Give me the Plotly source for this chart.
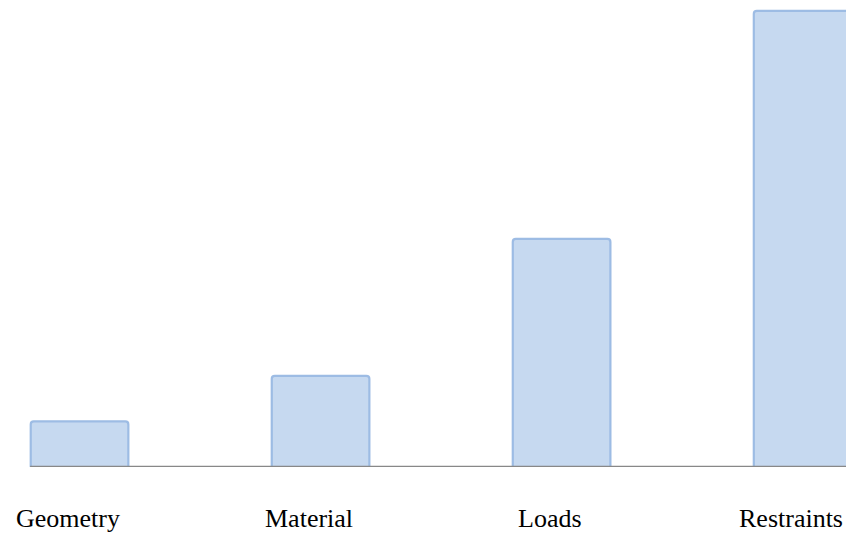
import plotly.graph_objects as go

categories = ["Geometry", "Material", "Loads", "Restraints"]
values = [1.0, 2.0, 5.0, 10.0]

xpos = list(range(len(categories)))

fig = go.Figure()
fig.add_trace(go.Bar(
    x=xpos, y=values, width=0.405,
    marker=dict(color="#c6d9f0", line=dict(color="#9dbce4", width=2.2), cornerradius=3),
    hoverinfo="skip",
))

# baseline
fig.add_shape(type="line", xref="x", yref="y", x0=-0.205, x1=3.6, y0=0, y1=0,
              line=dict(color="#888888", width=2.4), layer="above")

for i, c in enumerate(categories):
    fig.add_annotation(x=xpos[i], y=0, xref="x", yref="y", text=c, showarrow=False,
                       yshift=-51, xshift=-12,
                       font=dict(family="Liberation Serif", size=26, color="#000000"))

fig.update_layout(
    width=846, height=534,
    margin=dict(l=0, r=0, t=0, b=67),
    paper_bgcolor="white", plot_bgcolor="white",
    showlegend=False,
    hovermode=False,
    xaxis=dict(range=[-0.33, 3.18], visible=False, fixedrange=True),
    yaxis=dict(range=[0, 10.24], visible=False, fixedrange=True),
)

fig.write_html("out.html",
               config={"displayModeBar": False, "staticPlot": True},
               post_script="document.body.style.margin='0';document.body.style.overflow='hidden';")
